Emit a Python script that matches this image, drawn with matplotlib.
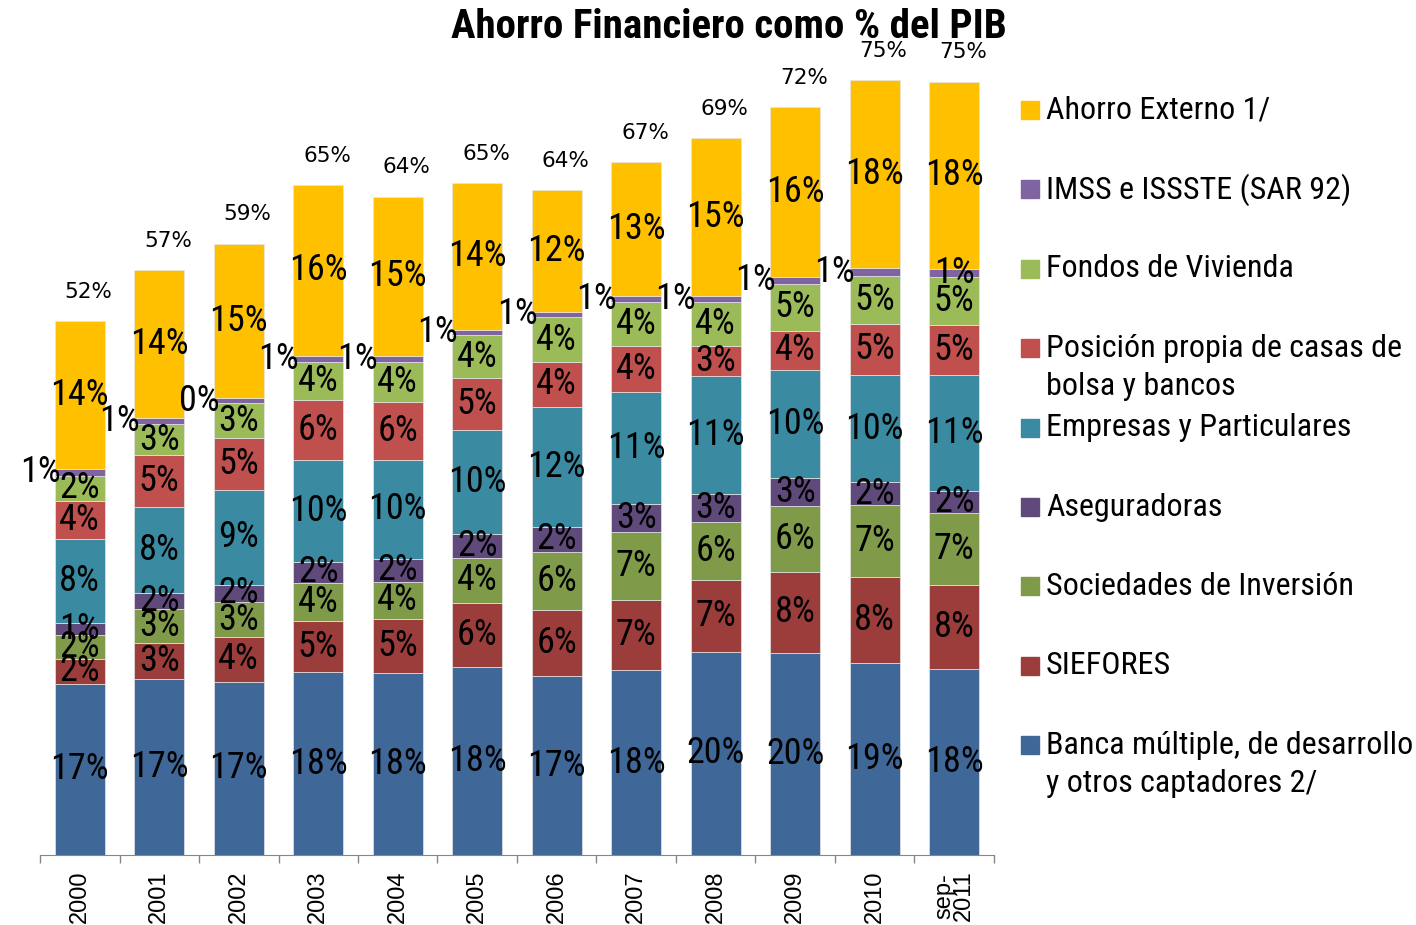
import matplotlib

matplotlib.use("Agg")
import matplotlib.pyplot as plt
import numpy as np
from matplotlib.patches import Rectangle

NARROW = ["Roboto Condensed", "Liberation Sans", "DejaVu Sans"]

years = ["2000", "2001", "2002", "2003", "2004", "2005", "2006", "2007",
         "2008", "2009", "2010", "sep-\n2011"]

# bottom -> top of each stack (% del PIB)
banca = [16.6, 17.1, 16.8, 17.7, 17.6, 18.2, 17.3, 17.9, 19.7, 19.55, 18.6, 18.0]
siefores = [2.4, 3.4, 4.3, 5.0, 5.3, 6.2, 6.4, 6.8, 6.9, 7.9, 8.3, 8.2]
sociedades = [2.3, 3.3, 3.4, 3.7, 3.6, 4.4, 5.7, 6.6, 5.7, 6.4, 7.0, 6.9]
aseguradoras = [1.2, 1.55, 1.7, 2.0, 2.2, 2.3, 2.4, 2.7, 2.7, 2.7, 2.2, 2.2]
empresas = [8.1, 8.4, 9.2, 9.9, 9.6, 10.1, 11.6, 10.9, 11.4, 10.45, 10.4, 11.2]
posicion = [3.7, 5.0, 5.0, 5.8, 5.6, 5.0, 4.4, 4.4, 2.9, 3.8, 5.0, 4.9]
fondos = [2.45, 3.0, 3.4, 3.7, 3.9, 4.2, 4.3, 4.3, 4.3, 4.55, 4.6, 4.6]
imss = [0.7, 0.6, 0.45, 0.6, 0.55, 0.52, 0.55, 0.55, 0.55, 0.65, 0.75, 0.75]
externo = [14.3, 14.3, 15.0, 16.5, 15.45, 14.2, 11.8, 13.0, 15.3, 16.45, 18.2, 18.2]

series_names = [
    "Banca múltiple, de desarrollo\ny otros captadores 2/",
    "SIEFORES",
    "Sociedades de Inversión",
    "Aseguradoras",
    "Empresas y Particulares",
    "Posición propia de casas de\nbolsa y bancos",
    "Fondos de Vivienda",
    "IMSS e ISSSTE (SAR 92)",
    "Ahorro Externo 1/",
]
series_values = [banca, siefores, sociedades, aseguradoras, empresas,
                 posicion, fondos, imss, externo]
colors = ["#3F6899", "#9B3D3B", "#7F9A48", "#604A7B", "#3A8BA2",
          "#C0504D", "#9BBB59", "#8064A2", "#FFC000"]

W, H = 1416, 925
fig = plt.figure(figsize=(W / 100, H / 100), dpi=100)
ax = fig.add_axes([40 / W, 70 / H, 954 / W, 825.6 / H])

x = np.arange(len(years))
bottom = np.zeros(len(years))
for name, vals, col in zip(series_names, series_values, colors):
    vals = np.array(vals, dtype=float)
    ax.bar(x, vals, 0.63, bottom=bottom, color=col, edgecolor="#e6e6e6",
           linewidth=0.5, label=name)
    for i, v in enumerate(vals):
        yc = bottom[i] + v / 2
        # small IMSS slices get their label pushed to the left of the bar
        xl = x[i] - 0.5 if name.startswith("IMSS") and i < len(years) - 1 else x[i]
        ax.text(xl, yc, f"{v:.0f}%", ha="center", va="center",
                fontsize=26, family=NARROW)
    bottom += vals

for i, tot in enumerate(bottom):
    ax.annotate(f"{tot:.0f}%", (x[i] + 0.11, tot), xytext=(0, 21),
                textcoords="offset points", ha="center", va="center",
                fontsize=15.5, family="DejaVu Sans")

ax.set_xlim(-0.5, len(years) - 0.5)
ax.set_ylim(0, 80)
ax.set_yticks([])
for s in ("left", "right", "top"):
    ax.spines[s].set_visible(False)
ax.spines["bottom"].set_color("#868686")
ax.set_xticks(x)
ax.set_xticklabels(years, rotation=90, fontsize=17, family="Liberation Sans",
                   linespacing=0.85)
ax.set_xticks(np.arange(-0.5, len(years)), minor=True)
ax.tick_params(axis="x", which="major", length=0, pad=11)
ax.tick_params(axis="x", which="minor", length=6, color="#868686", width=1)

# legend drawn by hand (Excel-style even spacing, top series first)
leg_y0, leg_dy = 110, 79.4
for k, (name, col) in enumerate(zip(series_names[::-1], colors[::-1])):
    yc = leg_y0 + k * leg_dy
    fig.add_artist(Rectangle((1021 / W, 1 - (yc + 9) / H), 18 / W, 18 / H,
                             transform=fig.transFigure, color=col))
    ty = yc + 19.5 if "\n" in name else yc
    fig.text(1046 / W, 1 - ty / H, name, ha="left", va="center",
             fontsize=23, family=NARROW, linespacing=1.38)

fig.text(729 / W, 1 - 27 / H, "Ahorro Financiero como % del PIB",
         ha="center", va="center", fontsize=29.5, fontweight="bold",
         family=NARROW)

fig.savefig("out.png", dpi=100, facecolor="white")
